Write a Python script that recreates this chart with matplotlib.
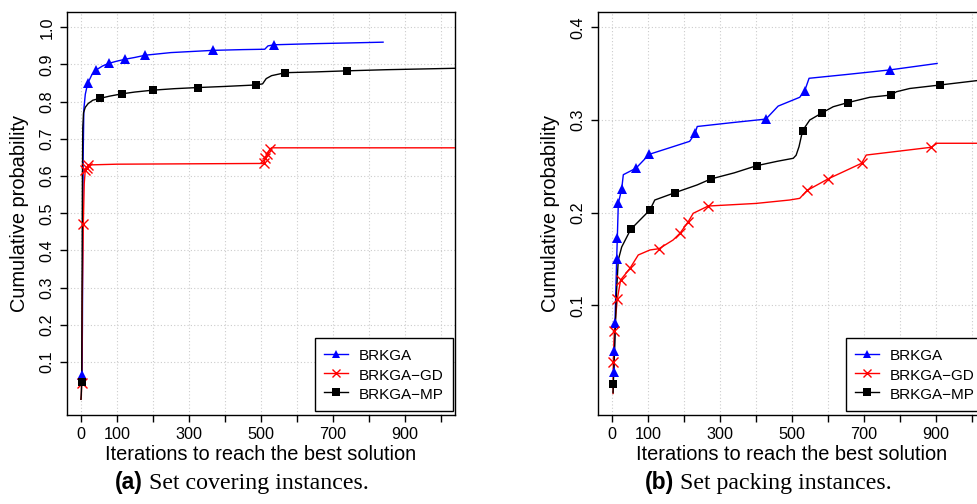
import matplotlib
matplotlib.use('Agg')
import matplotlib.pyplot as plt
from matplotlib.lines import Line2D

plt.rcParams['font.family'] = ['Liberation Sans', 'DejaVu Sans']

# ---- (a) set covering: curves and marker points ----
a_blue_x = [3, 4, 5, 6, 8, 12, 18.6, 30, 41.7, 60, 77, 100, 122, 150, 179, 250, 368, 450, 511, 520, 537, 650, 750, 840]
a_blue_y = [0.065, 0.2, 0.45, 0.65, 0.78, 0.82, 0.849, 0.872, 0.885, 0.896, 0.903, 0.909, 0.914, 0.919, 0.925, 0.932,
            0.938, 0.940, 0.941, 0.950, 0.953, 0.956, 0.958, 0.960]
a_blue_mx = [3, 18.6, 41.7, 77, 122, 179, 368, 537]
a_blue_my = [0.065, 0.849, 0.885, 0.903, 0.914, 0.925, 0.938, 0.953]

a_red_x = [0, 1, 2, 4, 6.5, 9, 12, 15.8, 20, 100, 300, 506, 508, 513, 517.5, 525, 530, 700, 1050]
a_red_y = [0.0, 0.01, 0.045, 0.3, 0.47, 0.58, 0.617, 0.621, 0.630, 0.632, 0.633, 0.634, 0.634, 0.648, 0.659, 0.672,
           0.676, 0.676, 0.676]
a_red_mx = [2, 6.5, 12, 15.8, 20, 508, 513, 517.5, 525]
a_red_my = [0.045, 0.47, 0.617, 0.621, 0.630, 0.634, 0.648, 0.659, 0.672]

a_black_x = [0, 1, 2, 3, 4, 5, 7, 12, 20, 33, 53, 80, 113, 150, 200, 260, 324, 400, 487, 505, 515, 530, 568.5, 650,
             741, 850, 950, 1050]
a_black_y = [0.0, 0.02, 0.047, 0.3, 0.6, 0.73, 0.77, 0.785, 0.795, 0.804, 0.809, 0.815, 0.821, 0.826, 0.831, 0.835,
             0.838, 0.841, 0.845, 0.848, 0.862, 0.870, 0.878, 0.880, 0.883, 0.886, 0.888, 0.890]
a_black_mx = [2, 53, 113, 200, 324, 487, 568.5, 741]
a_black_my = [0.047, 0.809, 0.821, 0.831, 0.838, 0.845, 0.878, 0.883]

# ---- (b) set packing ----
b_blue_x = [5.5, 6.5, 8.3, 13, 14.8, 17.6, 27, 31.5, 66.7, 103.7, 160, 216, 231, 237, 330, 428, 462, 522, 536, 548,
            650, 772, 904]
b_blue_y = [0.0285, 0.0511, 0.0813, 0.1497, 0.1724, 0.210, 0.2256, 0.241, 0.248, 0.263, 0.270, 0.277, 0.2856, 0.293,
            0.297, 0.301, 0.315, 0.3245, 0.3316, 0.345, 0.349, 0.354, 0.361]
b_blue_mx = [5.5, 6.5, 8.3, 13, 14.8, 17.6, 27, 66.7, 103.7, 231, 428, 536, 772]
b_blue_my = [0.0285, 0.0511, 0.0813, 0.1497, 0.1724, 0.210, 0.2256, 0.248, 0.263, 0.2856, 0.301, 0.3316, 0.354]

b_red_x = [3, 3.7, 6.5, 14.8, 24, 50, 73, 105.5, 131, 170, 189, 212, 226, 267.5, 400, 494, 522, 542.5, 602, 694,
           707, 888, 904, 1060]
b_red_y = [0.005, 0.0393, 0.0724, 0.1069, 0.1274, 0.14, 0.1544, 0.1598, 0.1612, 0.1706, 0.1778, 0.1903, 0.1994,
           0.2072, 0.210, 0.2137, 0.2155, 0.224, 0.2367, 0.2533, 0.2622, 0.2706, 0.2749, 0.2749]
b_red_mx = [3.7, 6.5, 14.8, 24, 50, 131, 189, 212, 267.5, 542.5, 602, 694, 888]
b_red_my = [0.0393, 0.0724, 0.1069, 0.1274, 0.14, 0.1612, 0.1778, 0.1903, 0.2072, 0.224, 0.2367, 0.2533, 0.2706]

b_black_x = [3, 3.7, 8, 12, 17.5, 27, 52, 80, 105.5, 119, 175, 237, 275, 340, 402, 460, 504, 512, 520, 530, 550, 585,
             615, 655, 717, 777, 791, 828, 913, 1013, 1060]
b_black_y = [0.0058, 0.0155, 0.06, 0.11, 0.149, 0.163, 0.182, 0.193, 0.203, 0.2137, 0.2216, 0.230, 0.2364, 0.243,
             0.2507, 0.2555, 0.2587, 0.262, 0.2712, 0.2885, 0.300, 0.3079, 0.3143, 0.3187, 0.3245, 0.327, 0.3305,
             0.334, 0.3378, 0.3424, 0.344]
b_black_mx = [3.7, 52, 105.5, 175, 275, 402, 530, 585, 655, 777, 913]
b_black_my = [0.0155, 0.182, 0.203, 0.2216, 0.2364, 0.2507, 0.2885, 0.3079, 0.3187, 0.327, 0.3378]

names = ['BRKGA', 'BRKGA\u2212GD', 'BRKGA\u2212MP']
x_ticks = [0, 100, 200, 300, 400, 500, 600, 700, 800, 900, 1000]
x_labels = ['0', '100', '', '300', '', '500', '', '700', '', '900', '']
a_yticks = [0.1, 0.2, 0.3, 0.4, 0.5, 0.6, 0.7, 0.8, 0.9, 1.0]
b_yticks = [0.1, 0.2, 0.3, 0.4]

styles = [dict(color='blue', marker='^', ms=7.5, mew=0),
          dict(color='red', marker='x', ms=6.5, mew=1.0),
          dict(color='black', marker='s', ms=6, mew=0)]

W, H = 977, 504
fig = plt.figure(figsize=(W / 100, H / 100), dpi=100)
ax1 = fig.add_axes([66.6 / W, 89 / H, 388.4 / W, 403 / H])
ax2 = fig.add_axes([597.6 / W, 89 / H, 388.4 / W, 403 / H])

series_a = [(a_blue_x, a_blue_y, a_blue_mx, a_blue_my),
            (a_red_x, a_red_y, a_red_mx, a_red_my),
            (a_black_x, a_black_y, a_black_mx, a_black_my)]
series_b = [(b_blue_x, b_blue_y, b_blue_mx, b_blue_my),
            (b_red_x, b_red_y, b_red_mx, b_red_my),
            (b_black_x, b_black_y, b_black_mx, b_black_my)]

for ax, series, yt, ylim in [(ax1, series_a, a_yticks, (-0.0422, 1.0411)),
                             (ax2, series_b, b_yticks, (-0.0182, 0.4165))]:
    for (lx, ly, mx, my), st in zip(series, styles):
        ax.plot(lx, ly, color=st['color'], lw=1.0, zorder=3)
        ax.plot(mx, my, ls='none', color=st['color'], marker=st['marker'],
                ms=st['ms'], mew=st['mew'], zorder=4)
    ax.set_xlim(-40, 1040)
    ax.set_ylim(*ylim)
    ax.set_xticks(x_ticks)
    ax.set_xticklabels(x_labels)
    ax.set_yticks(yt)
    ax.set_yticklabels([f'{v:.1f}' for v in yt], rotation=90, va='center')
    ax.grid(True, color='#cccccc', ls=(0, (1, 2)), lw=0.8)
    ax.set_axisbelow(True)
    ax.tick_params(length=5, width=1, labelsize=11.7, pad=3.5)
    for s in ax.spines.values():
        s.set_linewidth(1.0)
    ax.set_xlabel('Iterations to reach the best solution', fontsize=14.4, labelpad=2)
    ax.set_ylabel('Cumulative probability', fontsize=14.4, labelpad=8)

    handles = [Line2D([], [], color=st['color'], marker=st['marker'], ms=st['ms'] * 0.85,
                      mew=st['mew'], lw=1.0) for st in styles]
    leg = ax.legend(handles, names, loc='lower right', bbox_to_anchor=(0.995, 0.01),
                    borderaxespad=0, fontsize=11, frameon=True, fancybox=False,
                    edgecolor='black', framealpha=1, handlelength=1.6, handleheight=1.25,
                    handletextpad=0.7, labelspacing=0.2, borderpad=0.6)
    leg.get_frame().set_linewidth(1.0)

# captions: bold sans label + serif text
cap_y = 15 / H
fig.text(143 / W, cap_y, '(a)', fontsize=16.5, fontweight='bold', ha='right', va='baseline')
fig.text(143 / W, cap_y, ' Set covering instances.', fontsize=17.2, family='Liberation Serif',
         ha='left', va='baseline')
fig.text(674 / W, cap_y, '(b)', fontsize=16.5, fontweight='bold', ha='right', va='baseline')
fig.text(674 / W, cap_y, ' Set packing instances.', fontsize=17.2, family='Liberation Serif',
         ha='left', va='baseline')

fig.savefig('out.png', dpi=100)
